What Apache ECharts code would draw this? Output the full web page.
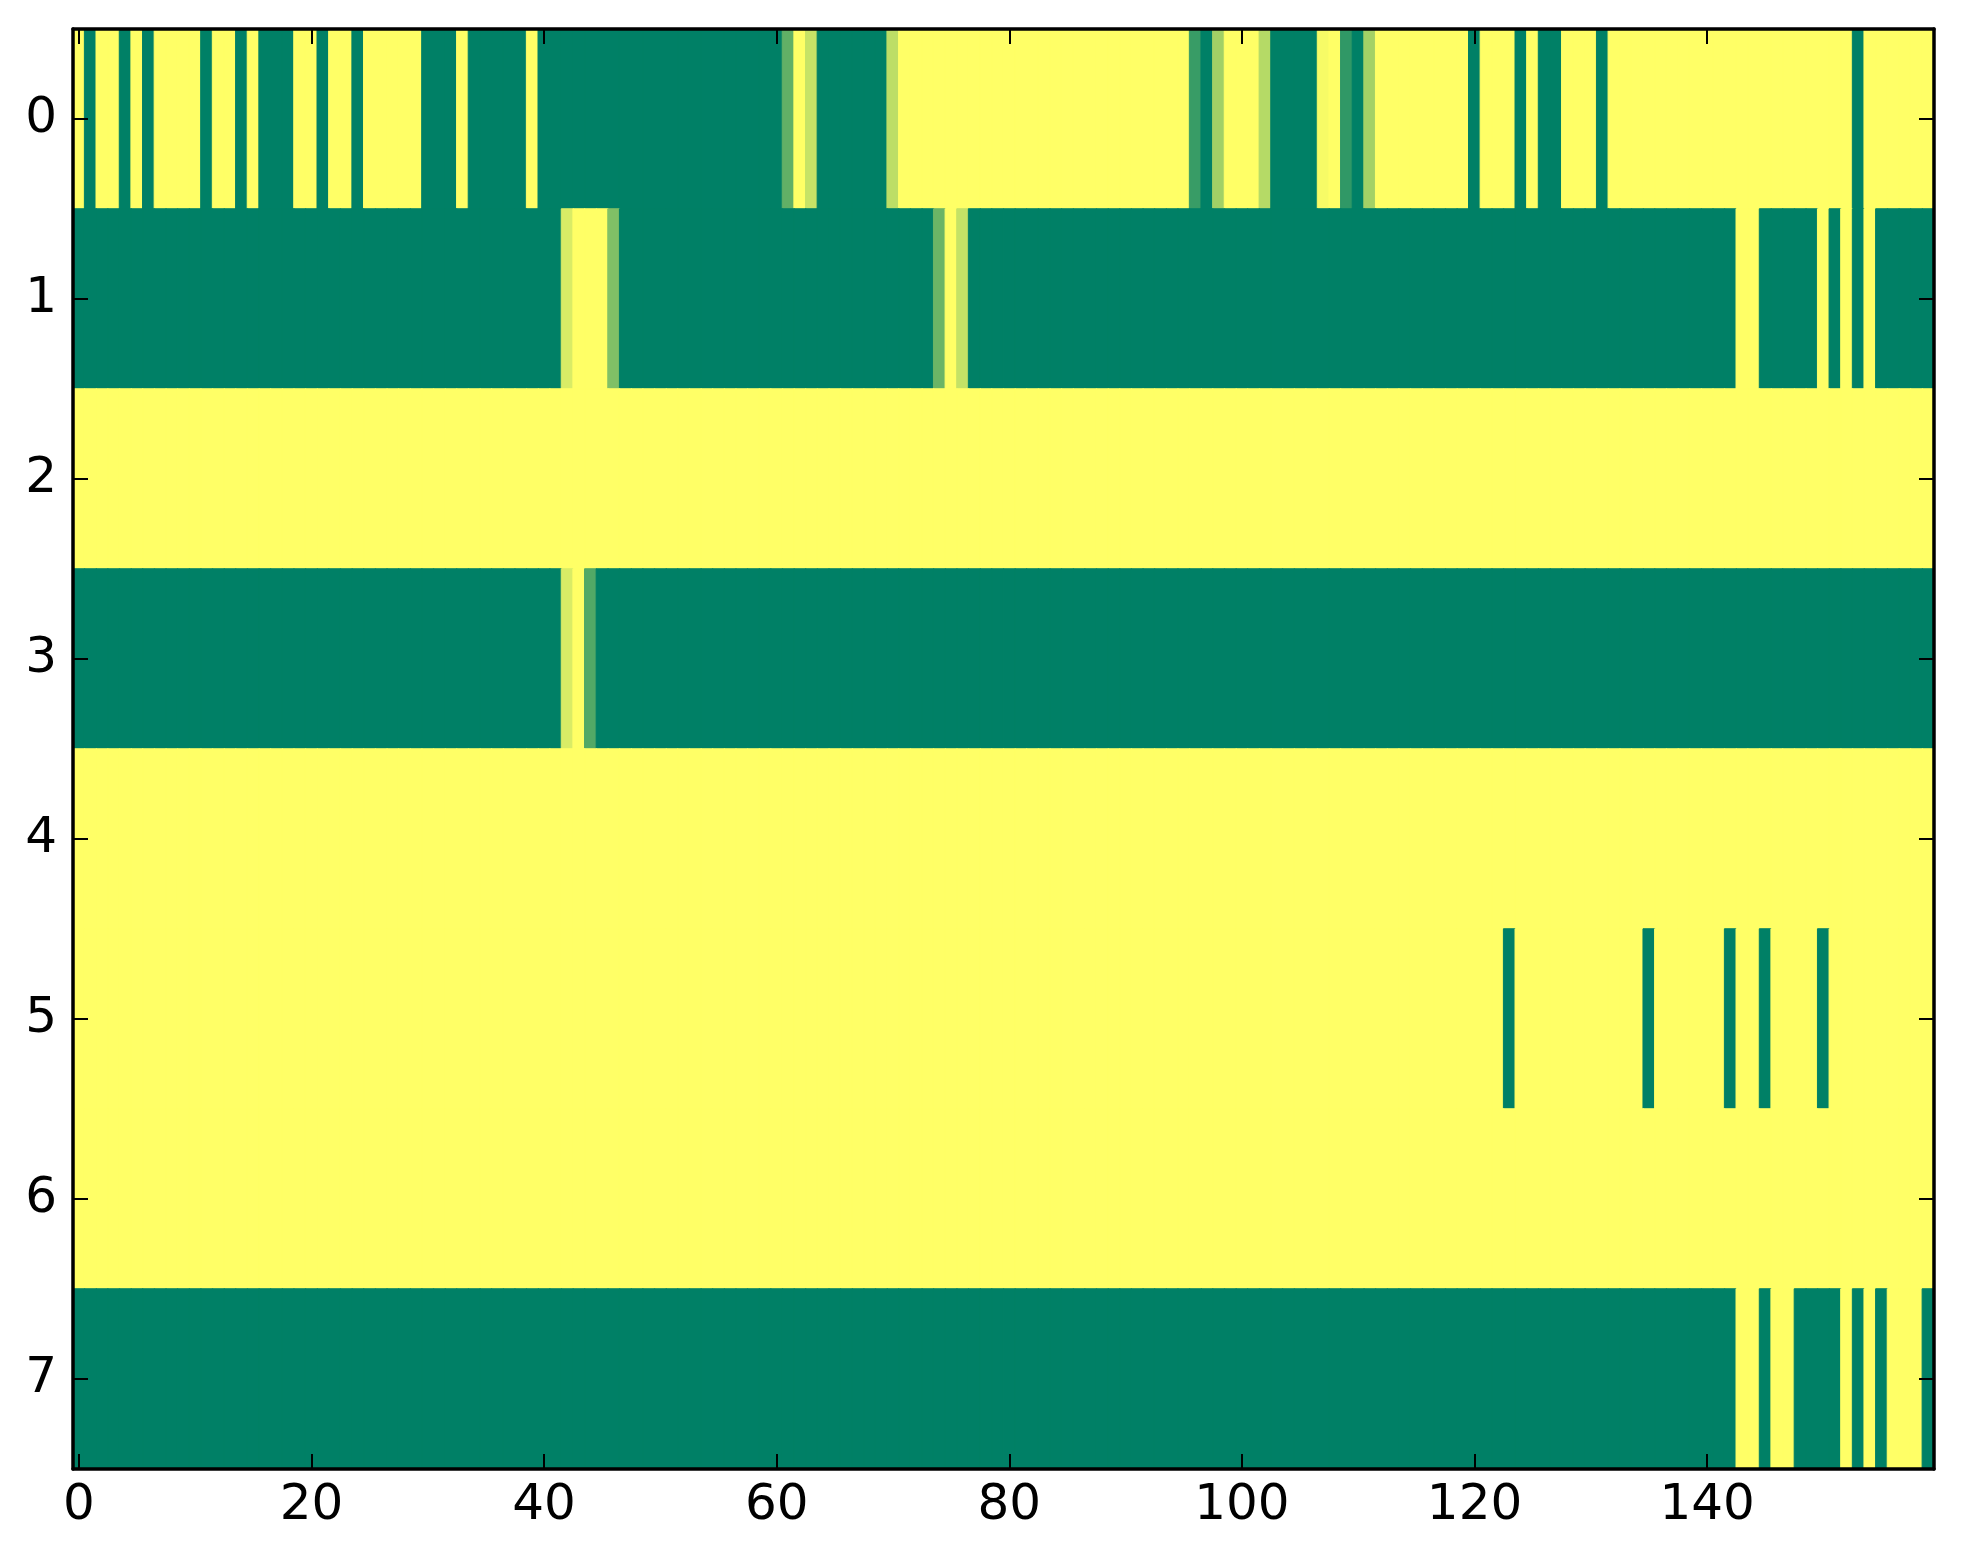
<!DOCTYPE html>
<html>
<head>
<meta charset="utf-8">
<script src="https://cdn.jsdelivr.net/npm/echarts@6/dist/echarts.min.js"></script>
<style>
html,body{margin:0;padding:0;background:#fff;}
#chart{width:1963px;height:1564px;}
</style>
</head>
<body>
<div id="chart"></div>
<script>
// Row values (0 = dark green, 1 = yellow on the "summer" colormap), 160 columns each
const row0 = [
1,0,1,1,0,1,0,1,1,1,
1,0,1,1,0,1,0,0,0,1,
1,0,1,1,0,1,1,1,1,1,
0,0,0,1,0,0,0,0,0,1,
0,0,0,0,0,0,0,0,0,0,
0,0,0,0,0,0,0,0,0,0,
0,0.38,1,0.78,0,0,0,0,0,0,
0.74,1,1,1,1,1,1,1,1,1,
1,1,1,1,1,1,1,1,1,1,
1,1,1,1,1,1,0.22,0,0.63,1,
1,1,0.71,0,0,0,0,0.97,1,0.19,
0,0.64,1,1,1,1,1,1,1,1,
0,1,1,1,0,1,0,0,1,1,
1,0,1,1,1,1,1,1,1,1,
1,1,1,1,1,1,1,1,1,1,
1,1,1,0,1,1,1,1,1,1
];
const row1 = [
0,0,0,0,0,0,0,0,0,0,
0,0,0,0,0,0,0,0,0,0,
0,0,0,0,0,0,0,0,0,0,
0,0,0,0,0,0,0,0,0,0,
0,0,0.85,1,1,1,0.5,0,0,0,
0,0,0,0,0,0,0,0,0,0,
0,0,0,0,0,0,0,0,0,0,
0,0,0,0,0.42,1,0.77,0,0,0,
0,0,0,0,0,0,0,0,0,0,
0,0,0,0,0,0,0,0,0,0,
0,0,0,0,0,0,0,0,0,0,
0,0,0,0,0,0,0,0,0,0,
0,0,0,0,0,0,0,0,0,0,
0,0,0,0,0,0,0,0,0,0,
0,0,0,1,1,0,0,0,0,0,
1,0,1,0,1,0,0,0,0,0
];
const row2 = [
1,1,1,1,1,1,1,1,1,1,
1,1,1,1,1,1,1,1,1,1,
1,1,1,1,1,1,1,1,1,1,
1,1,1,1,1,1,1,1,1,1,
1,1,1,1,1,1,1,1,1,1,
1,1,1,1,1,1,1,1,1,1,
1,1,1,1,1,1,1,1,1,1,
1,1,1,1,1,1,1,1,1,1,
1,1,1,1,1,1,1,1,1,1,
1,1,1,1,1,1,1,1,1,1,
1,1,1,1,1,1,1,1,1,1,
1,1,1,1,1,1,1,1,1,1,
1,1,1,1,1,1,1,1,1,1,
1,1,1,1,1,1,1,1,1,1,
1,1,1,1,1,1,1,1,1,1,
1,1,1,1,1,1,1,1,1,1
];
const row3 = [
0,0,0,0,0,0,0,0,0,0,
0,0,0,0,0,0,0,0,0,0,
0,0,0,0,0,0,0,0,0,0,
0,0,0,0,0,0,0,0,0,0,
0,0,0.85,1,0.32,0,0,0,0,0,
0,0,0,0,0,0,0,0,0,0,
0,0,0,0,0,0,0,0,0,0,
0,0,0,0,0,0,0,0,0,0,
0,0,0,0,0,0,0,0,0,0,
0,0,0,0,0,0,0,0,0,0,
0,0,0,0,0,0,0,0,0,0,
0,0,0,0,0,0,0,0,0,0,
0,0,0,0,0,0,0,0,0,0,
0,0,0,0,0,0,0,0,0,0,
0,0,0,0,0,0,0,0,0,0,
0,0,0,0,0,0,0,0,0,0
];
const row4 = [
1,1,1,1,1,1,1,1,1,1,
1,1,1,1,1,1,1,1,1,1,
1,1,1,1,1,1,1,1,1,1,
1,1,1,1,1,1,1,1,1,1,
1,1,1,1,1,1,1,1,1,1,
1,1,1,1,1,1,1,1,1,1,
1,1,1,1,1,1,1,1,1,1,
1,1,1,1,1,1,1,1,1,1,
1,1,1,1,1,1,1,1,1,1,
1,1,1,1,1,1,1,1,1,1,
1,1,1,1,1,1,1,1,1,1,
1,1,1,1,1,1,1,1,1,1,
1,1,1,1,1,1,1,1,1,1,
1,1,1,1,1,1,1,1,1,1,
1,1,1,1,1,1,1,1,1,1,
1,1,1,1,1,1,1,1,1,1
];
const row5 = [
1,1,1,1,1,1,1,1,1,1,
1,1,1,1,1,1,1,1,1,1,
1,1,1,1,1,1,1,1,1,1,
1,1,1,1,1,1,1,1,1,1,
1,1,1,1,1,1,1,1,1,1,
1,1,1,1,1,1,1,1,1,1,
1,1,1,1,1,1,1,1,1,1,
1,1,1,1,1,1,1,1,1,1,
1,1,1,1,1,1,1,1,1,1,
1,1,1,1,1,1,1,1,1,1,
1,1,1,1,1,1,1,1,1,1,
1,1,1,1,1,1,1,1,1,1,
1,1,1,0,1,1,1,1,1,1,
1,1,1,1,1,0,1,1,1,1,
1,1,0,1,1,0,1,1,1,1,
0,1,1,1,1,1,1,1,1,1
];
const row6 = [
1,1,1,1,1,1,1,1,1,1,
1,1,1,1,1,1,1,1,1,1,
1,1,1,1,1,1,1,1,1,1,
1,1,1,1,1,1,1,1,1,1,
1,1,1,1,1,1,1,1,1,1,
1,1,1,1,1,1,1,1,1,1,
1,1,1,1,1,1,1,1,1,1,
1,1,1,1,1,1,1,1,1,1,
1,1,1,1,1,1,1,1,1,1,
1,1,1,1,1,1,1,1,1,1,
1,1,1,1,1,1,1,1,1,1,
1,1,1,1,1,1,1,1,1,1,
1,1,1,1,1,1,1,1,1,1,
1,1,1,1,1,1,1,1,1,1,
1,1,1,1,1,1,1,1,1,1,
1,1,1,1,1,1,1,1,1,1
];
const row7 = [
0,0,0,0,0,0,0,0,0,0,
0,0,0,0,0,0,0,0,0,0,
0,0,0,0,0,0,0,0,0,0,
0,0,0,0,0,0,0,0,0,0,
0,0,0,0,0,0,0,0,0,0,
0,0,0,0,0,0,0,0,0,0,
0,0,0,0,0,0,0,0,0,0,
0,0,0,0,0,0,0,0,0,0,
0,0,0,0,0,0,0,0,0,0,
0,0,0,0,0,0,0,0,0,0,
0,0,0,0,0,0,0,0,0,0,
0,0,0,0,0,0,0,0,0,0,
0,0,0,0,0,0,0,0,0,0,
0,0,0,0,0,0,0,0,0,0,
0,0,0,1,1,0,1,1,0,0,
0,0,1,0,1,0,1,1,1,0
];
const rows = [row0, row1, row2, row3, row4, row5, row6, row7];

// Categories and tick labels
const xCategories = row0.map((_, i) => String(i));
const yCategories = ['0','1','2','3','4','5','6','7'];
const xTickLabels = ['0','20','40','60','80','100','120','140'];

// matplotlib "summer" colormap: (v, 0.5 + 0.5 v, 0.4)
function summer(v) {
  const r = Math.round(255 * v), g = Math.round(255 * (0.5 + 0.5 * v)), b = 102;
  return 'rgb(' + r + ',' + g + ',' + b + ')';
}

const data = [];
rows.forEach((r, y) => r.forEach((v, x) => data.push({
  value: [x, y, v],
  itemStyle: {borderColor: summer(v), borderWidth: 1}
})));

const FONT = 'DejaVu Sans';
const spine = {onZero:false, lineStyle:{color:'#000', width:3.5}};
const xTickFn = (i, v) => xTickLabels.indexOf(String(v)) >= 0;

const option = {
  animation: false,
  backgroundColor: '#ffffff',
  grid: {left: 73, right: 29, top: 29, bottom: 95},
  xAxis: [
    {type:'category', data:xCategories, position:'bottom', z:10,
     axisLine: spine,
     axisTick: {show:true, inside:true, length:15, alignWithLabel:true, interval:xTickFn, lineStyle:{color:'#000', width:2}},
     axisLabel: {interval:xTickFn, color:'#000', fontSize:50, fontFamily:FONT, margin:12},
     splitLine: {show:false}},
    {type:'category', data:xCategories, position:'top', z:10,
     axisLine: spine,
     axisTick: {show:true, inside:true, length:15, alignWithLabel:true, interval:xTickFn, lineStyle:{color:'#000', width:2}},
     axisLabel: {show:false},
     splitLine: {show:false}}
  ],
  yAxis: [
    {type:'category', data:yCategories, inverse:true, position:'left', z:10,
     axisLine: spine,
     axisTick: {show:true, inside:true, length:15, alignWithLabel:true, interval:0, lineStyle:{color:'#000', width:2}},
     axisLabel: {interval:0, color:'#000', fontSize:50, fontFamily:FONT, margin:16},
     splitLine: {show:false}},
    {type:'category', data:yCategories, inverse:true, position:'right', z:10,
     axisLine: spine,
     axisTick: {show:true, inside:true, length:15, alignWithLabel:true, interval:0, lineStyle:{color:'#000', width:2}},
     axisLabel: {show:false},
     splitLine: {show:false}}
  ],
  visualMap: {show:false, min:0, max:1, dimension:2, calculable:false,
              inRange:{color:['#008066', '#ffff66']}},
  series: [{
    type:'heatmap', xAxisIndex:0, yAxisIndex:0, data:data,
    emphasis:{disabled:true}
  }]
};

const chart = echarts.init(document.getElementById('chart'), null, {renderer:'canvas'});
chart.setOption(option);
</script>
</body>
</html>
